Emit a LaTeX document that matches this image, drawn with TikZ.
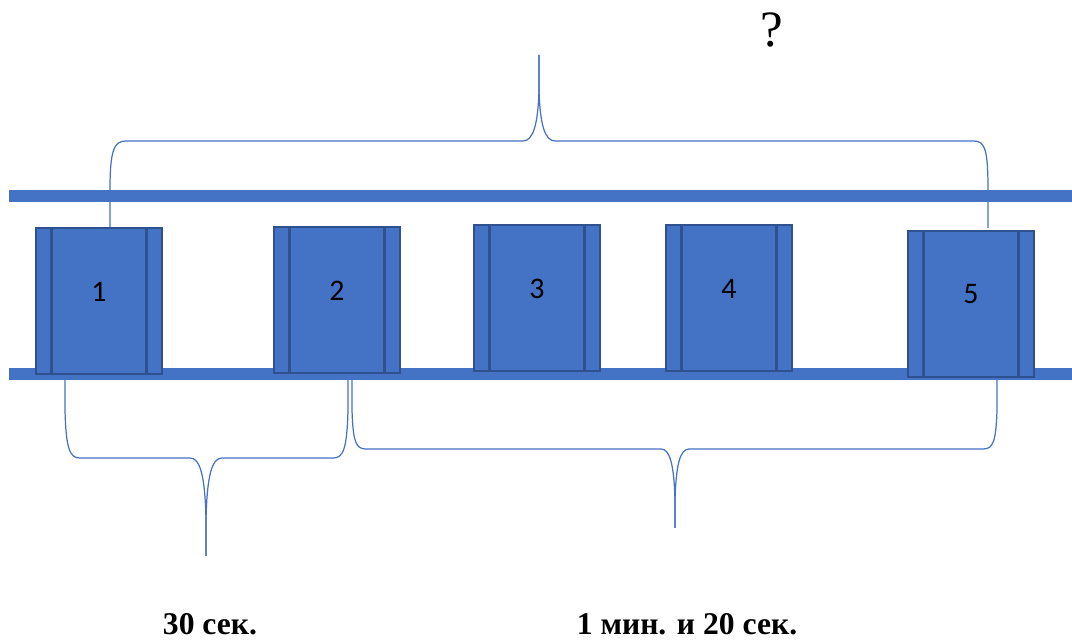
\documentclass[tikz,border=0pt]{standalone}
\usepackage{fontspec}
\setmainfont{Liberation Serif}
\newfontfamily\numfont{Carlito}
\definecolor{boxblue}{HTML}{4472C4}
\definecolor{boxedge}{HTML}{2F528F}
\tikzset{
  bar/.style={draw=boxblue, line width=0.24cm},
  brace/.style={draw=boxblue, line width=0.7pt},
  procbox/.style={draw=boxedge, fill=boxblue, line width=1.1pt,
    minimum width=2.52cm, minimum height=2.92cm, inner sep=0pt,
    path picture={
      \draw[boxedge, line width=2.2pt]
        ([xshift=0.31cm]path picture bounding box.north west) --
        ([xshift=0.31cm]path picture bounding box.south west)
        ([xshift=-0.31cm]path picture bounding box.north east) --
        ([xshift=-0.31cm]path picture bounding box.south east);},
    label={[font=\numfont\fontsize{17}{19}\selectfont, yshift=0.19cm]center:#1}},
  timelbl/.style={font=\bfseries\fontsize{18}{22}\selectfont}
}
\begin{document}
\begin{tikzpicture}[x=0.02cm, y=-0.02cm]
  \useasboundingbox (0,0) rectangle (1072,641);
  % conveyor
  \coordinate (top-l) at (9,196);
  \coordinate (top-r) at (1072,196);
  \coordinate (bot-l) at (9,374);
  \coordinate (bot-r) at (1072,374);
  \draw [bar] (top-l) -- (top-r);
  \draw [bar] (bot-l) -- (bot-r);
  % brace ends and tips
  \coordinate (t1) at (110,228);
  \coordinate (t5) at (988,228);
  \coordinate (ttip) at (539,55);
  \coordinate (q) at (772,30);
  \coordinate (l1) at (65,373);
  \coordinate (l2) at (348,373);
  \coordinate (ltip) at (206,556);
  \coordinate (r2) at (352,373);
  \coordinate (r5) at (997,373);
  \coordinate (rtip) at (675,528);
  % top brace
  \draw [brace] (t1) -- (110,190) .. controls (110,150) and (114,141) .. (126,141)
    -- (523,141) .. controls (533,141) and (538,125) .. (539,90) -- (ttip);
  \draw [brace] (ttip) -- (539,90) .. controls (540,125) and (545,141) .. (555,141)
    -- (974,141) .. controls (985,141) and (988,150) .. (988,190) -- (t5);
  % bottom left brace
  \draw [brace] (l1) -- (65,410) .. controls (66,450) and (70,458) .. (80,458)
    -- (190,458) .. controls (200,458) and (205,475) .. (206,520) -- (ltip);
  \draw [brace] (ltip) -- (206,520) .. controls (207,475) and (212,458) .. (222,458)
    -- (333,458) .. controls (343,458) and (347,450) .. (348,410) -- (l2);
  % bottom right brace
  \draw [brace] (r2) -- (352,410) .. controls (353,442) and (356,449) .. (366,449)
    -- (661,449) .. controls (670,449) and (674,465) .. (675,500) -- (rtip);
  \draw [brace] (rtip) -- (675,500) .. controls (676,465) and (680,449) .. (689,449)
    -- (983,449) .. controls (993,449) and (996,442) .. (997,410) -- (r5);
  % boxes
  \node [procbox=1] (b1) at (99,301) {};
  \node [procbox=2] (b2) at (337,300) {};
  \node [procbox=3] (b3) at (537,298) {};
  \node [procbox=4] (b4) at (729,298) {};
  \node [procbox=5] (b5) at (971,304) {};
  % times
  \node [font=\fontsize{29}{32}\selectfont] (ask) at (q) {?};
  \node [timelbl] (half) at (210,624) {30 сек.};
  \node [timelbl] (rest) at (687,624) {1 мин. и 20 сек.};
\end{tikzpicture}
\end{document}
